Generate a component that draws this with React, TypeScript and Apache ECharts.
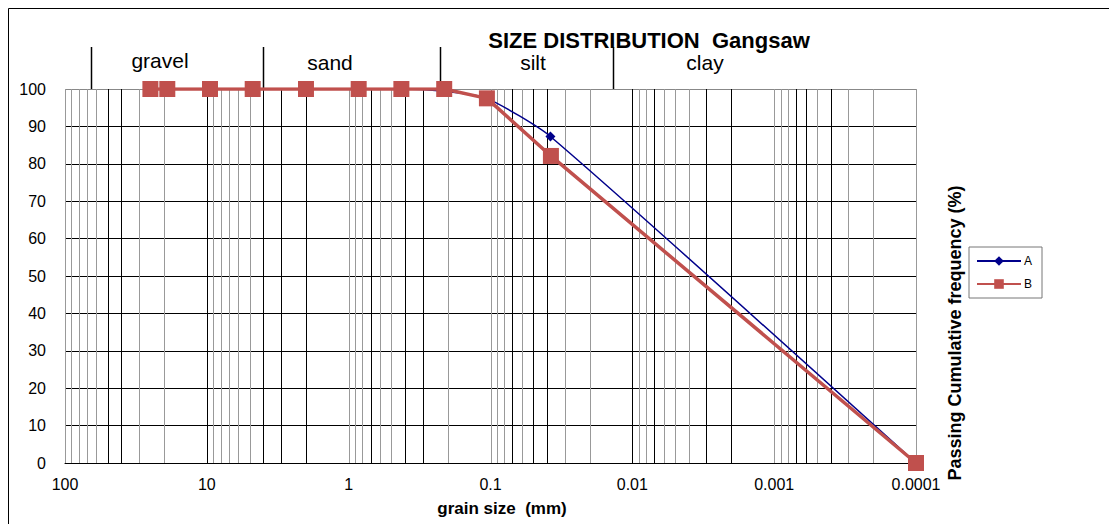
import React, { useEffect, useRef } from "react";
import * as echarts from "echarts";

// grain sizes (mm) and cumulative passing (%)
const sizeA = [25, 19, 9.5, 4.75, 2, 0.85, 0.425, 0.212, 0.106, 0.0378, 0.0001];
const passA = [100, 100, 100, 100, 100, 100, 100, 99.4, 97.5, 87.3, 0];
const sizeB = [25, 19, 9.5, 4.75, 2, 0.85, 0.425, 0.212, 0.106, 0.0375, 0.0001];
const passB = [100, 100, 100, 100, 100, 100, 100, 100, 97.5, 82.1, 0];

const xTickLabels = ["0.0001", "0.001", "0.01", "0.1", "1", "10", "100"];
const decades = [0.0001, 0.001, 0.01, 0.1, 1, 10];
const multipliers = [1, 2, 3, 4, 5, 6, 7, 8, 9];
const darkLines = [50, 40, 10, 4, 3, 2, 0.7, 0.4, 0.3, 0.07, 0.05, 0.04, 0.01, 0.007, 0.003, 0.002, 0.0007, 0.0006, 0.0004];

// zone boundary lines drawn above the plot
const zoneBounds = [66, 4, 0.226, 0.0136];
const zoneNames = ["gravel", "sand", "silt", "clay"];

const FONT = "'Liberation Sans', Arial, sans-serif";

export default function App() {
  const ref = useRef<HTMLDivElement>(null);

  useEffect(() => {
    document.documentElement.style.overflow = "hidden";
    const chart = echarts.init(ref.current!, null, { renderer: "svg" });

    const gridData: number[][] = [];
    decades.forEach((d) =>
      multipliers.forEach((m) => {
        const v = +(d * m).toPrecision(3);
        const dark = darkLines.some((x) => Math.abs(x - v) / v < 1e-6) ? 1 : 0;
        gridData.push([v, dark]);
      })
    );
    gridData.push([100, 0]);

    const option: any = {
      animation: false,
      grid: { left: 57, top: 81, width: 851, height: 374, containLabel: false },
      xAxis: {
        type: "log",
        logBase: 10,
        min: 0.0001,
        max: 100,
        inverse: true,
        axisLine: { show: true, onZero: false, lineStyle: { color: "#000", width: 1 } },
        axisTick: { show: false },
        splitLine: { show: false },
        minorSplitLine: { show: false },
        axisLabel: {
          color: "#000",
          fontSize: 16,
          fontFamily: FONT,
          margin: 13,
          formatter: (v: number) => {
            const i = Math.round(Math.log10(v)) + 4;
            return xTickLabels[i] ?? "";
          },
        },
      },
      yAxis: {
        type: "value",
        min: 0,
        max: 100,
        interval: 10,
        axisLine: { show: false },
        axisTick: { show: false },
        splitLine: {
          show: true,
          lineStyle: {
            color: ["#000", "#000", "#000", "#000", "#000", "#000", "#000", "#000", "#000", "#000", "#888"],
            width: 1,
          },
        },
        axisLabel: { color: "#000", fontSize: 16, fontFamily: FONT, margin: 19 },
      },
      legend: {
        orient: "vertical",
        left: 961,
        top: 239,
        borderColor: "#777",
        borderWidth: 1,
        padding: [8, 10, 8, 7],
        itemWidth: 44,
        itemHeight: 12,
        itemGap: 11,
        textStyle: { fontSize: 12, fontFamily: FONT, color: "#000", padding: [0, 0, 0, -2] },
        data: ["A", "B"],
      },
      series: [
        {
          type: "custom",
          name: "grid",
          silent: true,
          z: 1,
          clip: false,
          data: gridData,
          encode: { x: 0, y: -1 },
          renderItem: (params: any, api: any) => {
            const x = api.value(0);
            const p0 = api.coord([x, 0]);
            const p1 = api.coord([x, 100]);
            const px = Math.round(p0[0]) + 0.5;
            return {
              type: "line",
              shape: { x1: px, y1: p0[1], x2: px, y2: p1[1] },
              style: { stroke: api.value(1) ? "#000" : "#999", lineWidth: 1 },
            };
          },
        },
        {
          type: "custom",
          name: "zones",
          silent: true,
          z: 1,
          clip: false,
          data: zoneBounds.map((v) => [v]),
          encode: { x: 0, y: -1 },
          renderItem: (params: any, api: any) => {
            const x = api.value(0);
            const p = api.coord([x, 100]);
            const px = Math.round(p[0]) + 0.5;
            return {
              type: "line",
              shape: { x1: px, y1: p[1] - 42, x2: px, y2: p[1] + (params.dataIndex === 2 ? 6 : 0) },
              style: { stroke: "#000", lineWidth: 1.5 },
            };
          },
        },
        {
          type: "line",
          name: "A",
          z: 3,
          data: sizeA.map((s, i) => [s, passA[i]]),
          smooth: 0.2,
          symbol: "diamond",
          symbolSize: 10,
          lineStyle: { color: "#00008B", width: 1.5 },
          itemStyle: { color: "#00008B" },
        },
        {
          type: "line",
          name: "B",
          z: 4,
          data: sizeB.map((s, i) => [s, passB[i]]),
          symbol: "rect",
          symbolSize: 16,
          lineStyle: { color: "#C0504D", width: 3.5 },
          itemStyle: { color: "#C0504D" },
        },
      ],
      graphic: [
        {
          type: "rect",
          silent: true,
          shape: { x: 0.5, y: 0.5, width: 1300, height: 700 },
          style: { fill: "none", stroke: "#000", lineWidth: 1 },
        },
        {
          type: "text",
          x: 641,
          y: 32,
          style: {
            text: "SIZE DISTRIBUTION  Gangsaw",
            font: `bold 22px ${FONT}`,
            fill: "#000",
            textAlign: "center",
            textVerticalAlign: "middle",
          },
        },
        ...zoneNames.map((n, i) => ({
          type: "text",
          x: [152, 322, 525, 697][i],
          y: [52, 54, 54, 54][i],
          style: {
            text: n,
            font: `21px ${FONT}`,
            fill: "#000",
            textAlign: "center",
            textVerticalAlign: "middle",
          },
        })),
        {
          type: "text",
          x: 494,
          y: 500,
          style: {
            text: "grain size  (mm)",
            font: `bold 17px ${FONT}`,
            fill: "#000",
            textAlign: "center",
            textVerticalAlign: "middle",
          },
        },
        {
          type: "text",
          x: 947,
          y: 325,
          rotation: Math.PI / 2,
          style: {
            text: "Passing Cumulative frequency (%)",
            font: `bold 18px ${FONT}`,
            fill: "#000",
            textAlign: "center",
            textVerticalAlign: "middle",
          },
        },
      ],
    };

    chart.setOption(option);
    return () => chart.dispose();
  }, []);

  return <div ref={ref} style={{ width: 1109, height: 516 }} />;
}
